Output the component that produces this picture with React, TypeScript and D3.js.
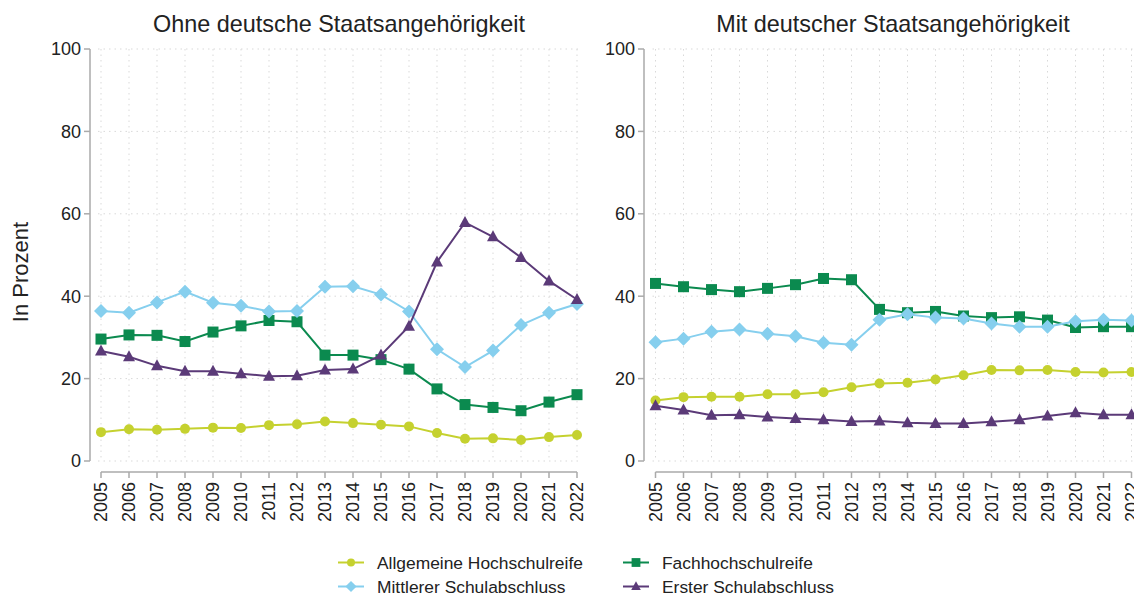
import React from "react";
import * as d3 from "d3";

const years = [2005,2006,2007,2008,2009,2010,2011,2012,2013,2014,2015,2016,2017,2018,2019,2020,2021,2022];
const yTicks = [0,20,40,60,80,100];

const seriesNames = ["Allgemeine Hochschulreife","Fachhochschulreife","Mittlerer Schulabschluss","Erster Schulabschluss"];
const seriesColors = ["#c5d12f","#0b8a4f","#86cfee","#5b3a78"];
const seriesShapes = ["circle","square","diamond","triangle"];

const ohneAHR = [7.0,7.7,7.6,7.8,8.1,8.0,8.7,8.9,9.6,9.2,8.8,8.4,6.8,5.4,5.5,5.1,5.8,6.3];
const ohneFHR = [29.6,30.6,30.5,29.0,31.3,32.8,34.1,33.8,25.7,25.7,24.6,22.3,17.5,13.7,13.0,12.2,14.3,16.1];
const ohneMSA = [36.4,36.0,38.5,41.1,38.4,37.7,36.3,36.4,42.3,42.4,40.4,36.3,27.1,22.8,26.8,33.0,36.0,38.1];
const ohneESA = [26.7,25.3,23.1,21.8,21.8,21.2,20.6,20.7,22.1,22.3,25.7,32.7,48.3,57.9,54.4,49.4,43.7,39.2];

const mitAHR = [14.7,15.5,15.6,15.6,16.2,16.2,16.7,17.9,18.8,19.0,19.8,20.8,22.1,22.0,22.1,21.6,21.5,21.6];
const mitFHR = [43.1,42.3,41.6,41.1,41.9,42.8,44.3,44.0,36.8,36.0,36.3,35.2,34.8,35.0,34.2,32.4,32.6,32.6];
const mitMSA = [28.8,29.7,31.4,31.9,30.9,30.3,28.7,28.2,34.3,35.6,34.8,34.6,33.4,32.6,32.6,33.9,34.3,34.1];
const mitESA = [13.4,12.4,11.1,11.2,10.7,10.3,10.0,9.6,9.7,9.3,9.1,9.1,9.5,10.0,10.9,11.7,11.2,11.2];

const panelTitles = ["Ohne deutsche Staatsangehörigkeit","Mit deutscher Staatsangehörigkeit"];
const yLabel = "In Prozent";

const FONT = "'Liberation Sans', Arial, sans-serif";
const TEXT = "#222";

function Marker({ shape, x, y, color, s = 1 }: { shape: string; x: number; y: number; color: string; s?: number }) {
  if (shape === "circle") return <circle cx={x} cy={y} r={5 * s} fill={color} />;
  if (shape === "square") return <rect x={x - 5.5 * s} y={y - 5.5 * s} width={11 * s} height={11 * s} fill={color} />;
  if (shape === "diamond") return <path d={`M${x},${y - 7 * s}L${x + 7 * s},${y}L${x},${y + 7 * s}L${x - 7 * s},${y}Z`} fill={color} />;
  return <path d={`M${x},${y - 6.5 * s}L${x + 6 * s},${y + 4.5 * s}L${x - 6 * s},${y + 4.5 * s}Z`} fill={color} />;
}

function Panel({ axisX, x0, x1, title, titleX, data }: { axisX: number; x0: number; x1: number; title: string; titleX: number; data: number[][] }) {
  const x = d3.scaleLinear().domain([years[0], years[years.length - 1]]).range([x0, x1]);
  const y = d3.scaleLinear().domain([0, 100]).range([461, 49]);
  const line = d3.line<number>().x((_, i) => x(years[i])).y((v) => y(v));
  const axisY = 472;
  return (
    <g>
      <text x={titleX} y={32} textAnchor="middle" fontSize={23.4} fill={TEXT} fontFamily={FONT}>{title}</text>
      {years.map((yr) => (
        <line key={"gv" + yr} x1={x(yr)} x2={x(yr)} y1={y(100)} y2={y(0)} stroke="#d9d9d9" strokeWidth={1} strokeDasharray="1.5,4" />
      ))}
      {yTicks.map((t) => (
        <line key={"gh" + t} x1={x0 - 3} x2={x1 + 3} y1={y(t)} y2={y(t)} stroke="#d9d9d9" strokeWidth={1} strokeDasharray="1.5,4" />
      ))}
      <line x1={axisX} x2={axisX} y1={y(100)} y2={y(0)} stroke="#aaa" strokeWidth={1.5} />
      {yTicks.map((t) => (
        <g key={"yt" + t}>
          <line x1={axisX - 6} x2={axisX} y1={y(t)} y2={y(t)} stroke="#aaa" strokeWidth={1.5} />
          <text x={axisX - 9} y={y(t)} dy="0.35em" textAnchor="end" fontSize={18} fill={TEXT} fontFamily={FONT}>{t}</text>
        </g>
      ))}
      <line x1={x0} x2={x1} y1={axisY} y2={axisY} stroke="#aaa" strokeWidth={1.5} />
      {years.map((yr) => (
        <g key={"xt" + yr}>
          <line x1={x(yr)} x2={x(yr)} y1={axisY} y2={axisY + 6} stroke="#aaa" strokeWidth={1.5} />
          <text transform={`translate(${x(yr)},${axisY + 10}) rotate(-90)`} dy="0.35em" textAnchor="end" fontSize={18} fill={TEXT} fontFamily={FONT}>{yr}</text>
        </g>
      ))}
      {data.map((vals, si) => (
        <g key={"s" + si}>
          <path d={line(vals) || ""} fill="none" stroke={seriesColors[si]} strokeWidth={2} />
          {vals.map((v, i) => (
            <Marker key={i} shape={seriesShapes[si]} x={x(years[i])} y={y(v)} color={seriesColors[si]} />
          ))}
        </g>
      ))}
    </g>
  );
}

export default function App() {
  const legendItems = [
    { i: 0, lx: 351, ly: 562.5 },
    { i: 1, lx: 636, ly: 562.5 },
    { i: 2, lx: 351, ly: 586.5 },
    { i: 3, lx: 636, ly: 586.5 },
  ];
  return (
    <svg width={1134} height={597} style={{ position: "absolute", left: 0, top: 0, background: "#fff" }}>
      <rect width={1134} height={597} fill="#fff" />
      <text transform="translate(20,272) rotate(-90)" textAnchor="middle" dy="0.35em" fontSize={22} fill={TEXT} fontFamily={FONT}>{yLabel}</text>
      <Panel axisX={90} x0={101} x1={577} title={panelTitles[0]} titleX={339} data={[ohneAHR, ohneFHR, ohneMSA, ohneESA]} />
      <Panel axisX={644} x0={655.5} x1={1131.5} title={panelTitles[1]} titleX={893} data={[mitAHR, mitFHR, mitMSA, mitESA]} />
      {legendItems.map(({ i, lx, ly }) => (
        <g key={"lg" + i}>
          <line x1={lx - 13} x2={lx + 13} y1={ly} y2={ly} stroke={seriesColors[i]} strokeWidth={2} />
          <Marker shape={seriesShapes[i]} x={lx} y={ly} color={seriesColors[i]} s={0.8} />
          <text x={lx + 26} y={ly} dy="0.35em" fontSize={17.4} fill={TEXT} fontFamily={FONT}>{seriesNames[i]}</text>
        </g>
      ))}
    </svg>
  );
}
